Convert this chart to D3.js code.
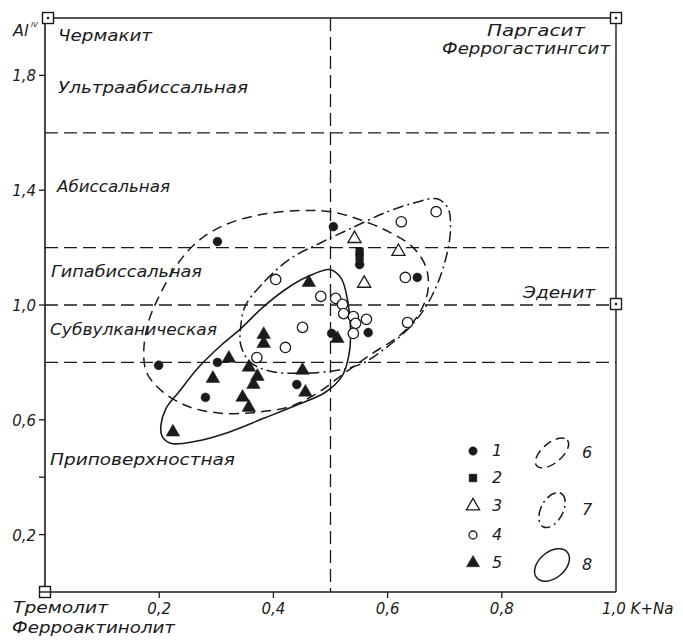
<!DOCTYPE html>
<html>
<head>
<meta charset="utf-8">
<script src="https://cdn.jsdelivr.net/npm/d3@7"></script>
<style>
body { margin: 0; background: #fff; }
svg text { font-family: "DejaVu Sans", sans-serif; font-style: italic; fill: #1b1b1b; }
</style>
</head>
<body>
<svg id="chart" width="683" height="641"></svg>
<script>
// --- data (K+Na , Al IV) ---
var series1 = [[0.302,1.221],[0.505,1.273],[0.199,0.790],[0.302,0.800],[0.281,0.678],
               [0.441,0.723],[0.502,0.901],[0.551,1.141],[0.652,1.096],[0.566,0.904]];
var series2 = [[0.551,1.186],[0.551,1.165]];
var series3 = [[0.542,1.231],[0.619,1.186],[0.559,1.075]];
var series4 = [[0.685,1.325],[0.624,1.290],[0.404,1.089],[0.483,1.030],[0.509,1.023],
               [0.521,1.002],[0.523,0.970],[0.540,0.960],[0.563,0.950],[0.544,0.936],
               [0.540,0.901],[0.631,1.096],[0.635,0.939],[0.451,0.922],[0.421,0.852],
               [0.371,0.817]];
var series5 = [[0.462,1.078],[0.383,0.897],[0.383,0.866],[0.322,0.814],[0.294,0.744],
               [0.357,0.783],[0.372,0.751],[0.365,0.723],[0.346,0.678],[0.357,0.643],
               [0.451,0.772],[0.456,0.696],[0.224,0.557],[0.512,0.883]];

// field outlines 6 (dashed), 7 (dash-dot), 8 (solid)
var field6 = [[0.173,0.842],[0.182,0.946],[0.203,1.043],[0.234,1.148],[0.269,1.224],
              [0.316,1.280],[0.378,1.315],[0.448,1.329],[0.500,1.325],[0.552,1.297],
              [0.605,1.252],[0.645,1.200],[0.668,1.127],[0.670,1.043],[0.652,0.960],
              [0.619,0.890],[0.573,0.831],[0.526,0.765],[0.479,0.696],[0.430,0.647],
              [0.369,0.626],[0.308,0.623],[0.250,0.647],[0.203,0.703],[0.178,0.765]];
var field7 = [[0.351,0.998],[0.386,1.085],[0.430,1.162],[0.483,1.217],[0.535,1.266],
              [0.596,1.322],[0.649,1.357],[0.687,1.370],[0.706,1.336],[0.710,1.259],
              [0.701,1.155],[0.678,1.033],[0.645,0.936],[0.596,0.849],[0.552,0.793],
              [0.509,0.772],[0.448,0.762],[0.395,0.769],[0.360,0.800],[0.343,0.859],
              [0.343,0.929]];
var field8 = [[0.203,0.581],[0.212,0.640],[0.234,0.696],[0.269,0.783],[0.308,0.859],
              [0.343,0.918],[0.381,0.991],[0.421,1.054],[0.460,1.099],[0.500,1.123],
              [0.519,1.092],[0.530,1.016],[0.535,0.922],[0.533,0.835],[0.521,0.755],
              [0.491,0.696],[0.444,0.654],[0.383,0.605],[0.322,0.557],[0.264,0.525],
              [0.220,0.518],[0.205,0.543]];

var depthBounds = [1.6, 1.2, 1.0, 0.8];
var depthNames = ["Ультраабиссальная", "Абиссальная", "Гипабиссальная", "Субвулканическая", "Приповерхностная"];
var yTicks = [0.2, 0.4, 0.6, 1.0, 1.4, 1.8];
var yTickLabels = {0.2: "0,2", 0.6: "0,6", 1.0: "1,0", 1.4: "1,4", 1.8: "1,8"};
var xTicks = [0.2, 0.4, 0.6, 0.8];
var xTickLabels = ["0,2", "0,4", "0,6", "0,8"];
var legendNums = ["1", "2", "3", "4", "5"];
var fieldNums = ["6", "7", "8"];

var svg = d3.select("#chart");
var ink = "#1b1b1b";

var x = d3.scaleLinear().domain([0, 1]).range([45, 616]);
var y = d3.scaleLinear().domain([0, 2]).range([592, 18]);

// frame
svg.append("line").attr("x1", x(0)).attr("x2", x(0)).attr("y1", y(0)).attr("y2", y(2))
   .attr("stroke", ink).attr("stroke-width", 1.6);
svg.append("line").attr("x1", x(0)).attr("x2", x(1)).attr("y1", y(0)).attr("y2", y(0))
   .attr("stroke", ink).attr("stroke-width", 1.6);
svg.append("line").attr("x1", x(0)).attr("x2", x(1)).attr("y1", y(2)).attr("y2", y(2))
   .attr("stroke", ink).attr("stroke-width", 1.4);
svg.append("line").attr("x1", x(1)).attr("x2", x(1)).attr("y1", y(0)).attr("y2", y(2))
   .attr("stroke", ink).attr("stroke-width", 1.4);

// dashed zone boundaries
svg.selectAll(".zone").data(depthBounds).enter().append("line")
   .attr("x1", x(0)).attr("x2", x(1))
   .attr("y1", d => y(d)).attr("y2", d => y(d))
   .attr("stroke", ink).attr("stroke-width", 1.3)
   .attr("stroke-dasharray", "13,6");
svg.append("line").attr("x1", x(0.5)).attr("x2", x(0.5)).attr("y1", y(2)).attr("y2", y(0))
   .attr("stroke", ink).attr("stroke-width", 1.3).attr("stroke-dasharray", "13,6");

// ticks
svg.selectAll(".yt").data(yTicks).enter().append("line")
   .attr("x1", x(0) - 6).attr("x2", x(0)).attr("y1", d => y(d)).attr("y2", d => y(d))
   .attr("stroke", ink).attr("stroke-width", 1.3);
svg.selectAll(".ytl").data(yTicks.filter(d => yTickLabels[d])).enter().append("text")
   .attr("x", x(0) - 9).attr("y", d => y(d) + 6).attr("text-anchor", "end")
   .attr("font-size", 15).text(d => yTickLabels[d]);
svg.selectAll(".xt").data(xTicks).enter().append("line")
   .attr("x1", d => x(d)).attr("x2", d => x(d)).attr("y1", y(0)).attr("y2", y(0) + 6)
   .attr("stroke", ink).attr("stroke-width", 1.3);
svg.selectAll(".xtl").data(xTicks).enter().append("text")
   .attr("x", d => x(d)).attr("y", 614).attr("text-anchor", "middle")
   .attr("font-size", 15).text((d, i) => xTickLabels[i]);
svg.append("text").attr("x", 602).attr("y", 614).attr("font-size", 15).text("1,0 K+Na");

// corner squares
function box(cx, cy, dot) {
  svg.append("rect").attr("x", cx - 5.5).attr("y", cy - 5.5).attr("width", 11).attr("height", 11)
     .attr("fill", "#fff").attr("stroke", ink).attr("stroke-width", 1.4);
  if (dot) svg.append("circle").attr("cx", cx).attr("cy", cy).attr("r", 1.3).attr("fill", ink);
}
box(x(0) + 3, y(2), true);
box(x(1), y(2), true);
box(x(1), y(1.0) - 1, true);
box(x(0), y(0), false);
svg.append("line").attr("x1", x(0) - 5).attr("x2", x(0) + 6).attr("y1", y(0)).attr("y2", y(0))
   .attr("stroke", ink).attr("stroke-width", 1.4);

// labels
function label(t, px, py, size, len) {
  var el = svg.append("text").attr("x", px).attr("y", py).attr("font-size", size).text(t);
  if (len) el.attr("textLength", len).attr("lengthAdjust", "spacingAndGlyphs");
  return el;
}
label("Al", 13, 36, 16);
label("IV", 31, 27, 7);
label("Чермакит", 58, 41, 16, 94);
label(depthNames[0], 58, 93, 16, 190);
label(depthNames[1], 57, 192, 16, 113);
label(depthNames[2], 51, 277, 16, 151);
label(depthNames[3], 50, 335, 16, 167);
label(depthNames[4], 50, 465, 16, 185);
label("Паргасит", 487, 36, 16, 98);
label("Феррогастингсит", 442, 54, 16, 168);
label("Эденит", 523, 298, 16, 72);
label("Тремолит", 13, 613, 15, 95);
label("Ферроактинолит", 12, 633, 15, 163);

// fields
var line = d3.line().x(d => x(d[0])).y(d => y(d[1])).curve(d3.curveCatmullRomClosed.alpha(0.5));
svg.append("path").attr("d", line(field6)).attr("fill", "none").attr("stroke", ink)
   .attr("stroke-width", 1.5).attr("stroke-dasharray", "10,6");
svg.append("path").attr("d", line(field7)).attr("fill", "none").attr("stroke", ink)
   .attr("stroke-width", 1.5).attr("stroke-dasharray", "11,4,2,4");
svg.append("path").attr("d", line(field8)).attr("fill", "none").attr("stroke", ink)
   .attr("stroke-width", 1.6);

// points
var sym = d3.symbol();
function plot(data, type, size, filled) {
  svg.append("g").selectAll("path").data(data).enter().append("path")
     .attr("transform", d => "translate(" + x(d[0]) + "," + y(d[1]) + ")")
     .attr("d", sym.type(type).size(size)())
     .attr("fill", filled ? ink : "#fff")
     .attr("stroke", ink).attr("stroke-width", filled ? 0.5 : 1.3);
}
plot(series4, d3.symbolCircle, 85, false);
plot(series3, d3.symbolTriangle, 75, false);
plot(series1, d3.symbolCircle, 62, true);
plot(series2, d3.symbolSquare, 60, true);
plot(series5, d3.symbolTriangle, 80, true);

// legend
var legTypes = [[d3.symbolCircle, 55, true], [d3.symbolSquare, 60, true],
                [d3.symbolTriangle, 75, false], [d3.symbolCircle, 50, false],
                [d3.symbolTriangle, 75, true]];
var legY = [451, 478, 506, 535, 563];
legendNums.forEach(function(n, i) {
  var t = legTypes[i];
  svg.append("path").attr("transform", "translate(473," + legY[i] + ")")
     .attr("d", sym.type(t[0]).size(t[1])())
     .attr("fill", t[2] ? ink : "#fff").attr("stroke", ink).attr("stroke-width", t[2] ? 0.5 : 1.3);
  svg.append("text").attr("x", 492).attr("y", legY[i] + 5).attr("font-size", 16).text(n);
});
var fieldStyles = [["9,5", -40, 20, 10, 453], ["10,4,2,4", -62, 19, 11, 510], [null, -40, 20, 13, 565]];
fieldNums.forEach(function(n, i) {
  var f = fieldStyles[i];
  var e = svg.append("ellipse").attr("cx", 0).attr("cy", 0).attr("rx", f[2]).attr("ry", f[3])
     .attr("transform", "translate(552," + f[4] + ") rotate(" + f[1] + ")")
     .attr("fill", "none").attr("stroke", ink).attr("stroke-width", 1.5);
  if (f[0]) e.attr("stroke-dasharray", f[0]);
  svg.append("text").attr("x", 582).attr("y", f[4] + 5).attr("font-size", 16).text(n);
});
</script>
</body>
</html>
